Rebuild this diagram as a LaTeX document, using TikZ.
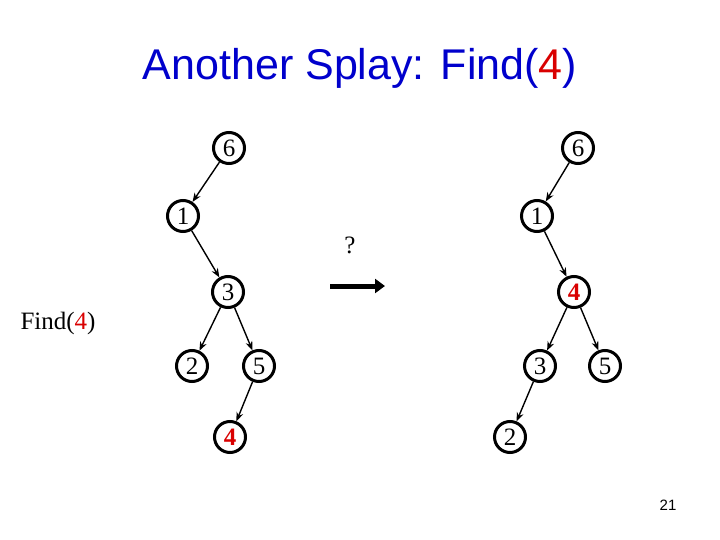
\documentclass[tikz,border=0pt]{standalone}
\usepackage{fontspec}
\setmainfont{Liberation Serif}
\newfontfamily\sans{Liberation Sans}
\usetikzlibrary{arrows.meta}
\begin{document}
\begin{tikzpicture}[x=1pt,y=-1pt,
  tn/.style={circle,draw,line width=3pt,minimum size=31pt,inner sep=0pt,font=\fontsize{25}{25}\selectfont},
  ed/.style={-{Stealth[length=9pt,width=7pt]},line width=1.4pt}]
\useasboundingbox (0,0) rectangle (720,540);
\node[font=\sans\fontsize{43}{43}\selectfont,text=blue!80!black] (title) at (360,68) {Another Splay: Find(\textcolor{red!85!black}{4})};
\node[tn] (a6) at (229,148) {6};
\node[tn] (a1) at (183,216) {1};
\node[tn] (a3) at (228,292) {3};
\node[tn] (a2) at (192,366) {2};
\node[tn] (a5) at (259,366) {5};
\node[tn,text=red!85!black,font=\bfseries\fontsize{25}{25}\selectfont] (a4) at (230,437) {4};
\draw[ed] (a6)--(a1); \draw[ed] (a1)--(a3); \draw[ed] (a3)--(a2); \draw[ed] (a3)--(a5); \draw[ed] (a5)--(a4);
\node[tn] (b6) at (578,148) {6};
\node[tn] (b1) at (537,216) {1};
\node[tn,text=red!85!black,font=\bfseries\fontsize{25}{25}\selectfont] (b4) at (574,292) {4};
\node[tn] (b3) at (540,366) {3};
\node[tn] (b5) at (605,366) {5};
\node[tn] (b2) at (510,437) {2};
\draw[ed] (b6)--(b1); \draw[ed] (b1)--(b4); \draw[ed] (b4)--(b3); \draw[ed] (b4)--(b5); \draw[ed] (b3)--(b2);
\node[font=\fontsize{25}{25}\selectfont] (q) at (350,245) {?};
\coordinate (s) at (330,286); \coordinate (e) at (385,286);
\draw[line width=5pt,-{Triangle[length=10pt,width=14pt]}] (s)--(e);
\node[font=\fontsize{25}{25}\selectfont] (f) at (58,323) {Find(\textcolor{red!85!black}{4})};
\node[font=\sans\fontsize{15}{15}\selectfont] (pg) at (668,505) {21};
\end{tikzpicture}
\end{document}
